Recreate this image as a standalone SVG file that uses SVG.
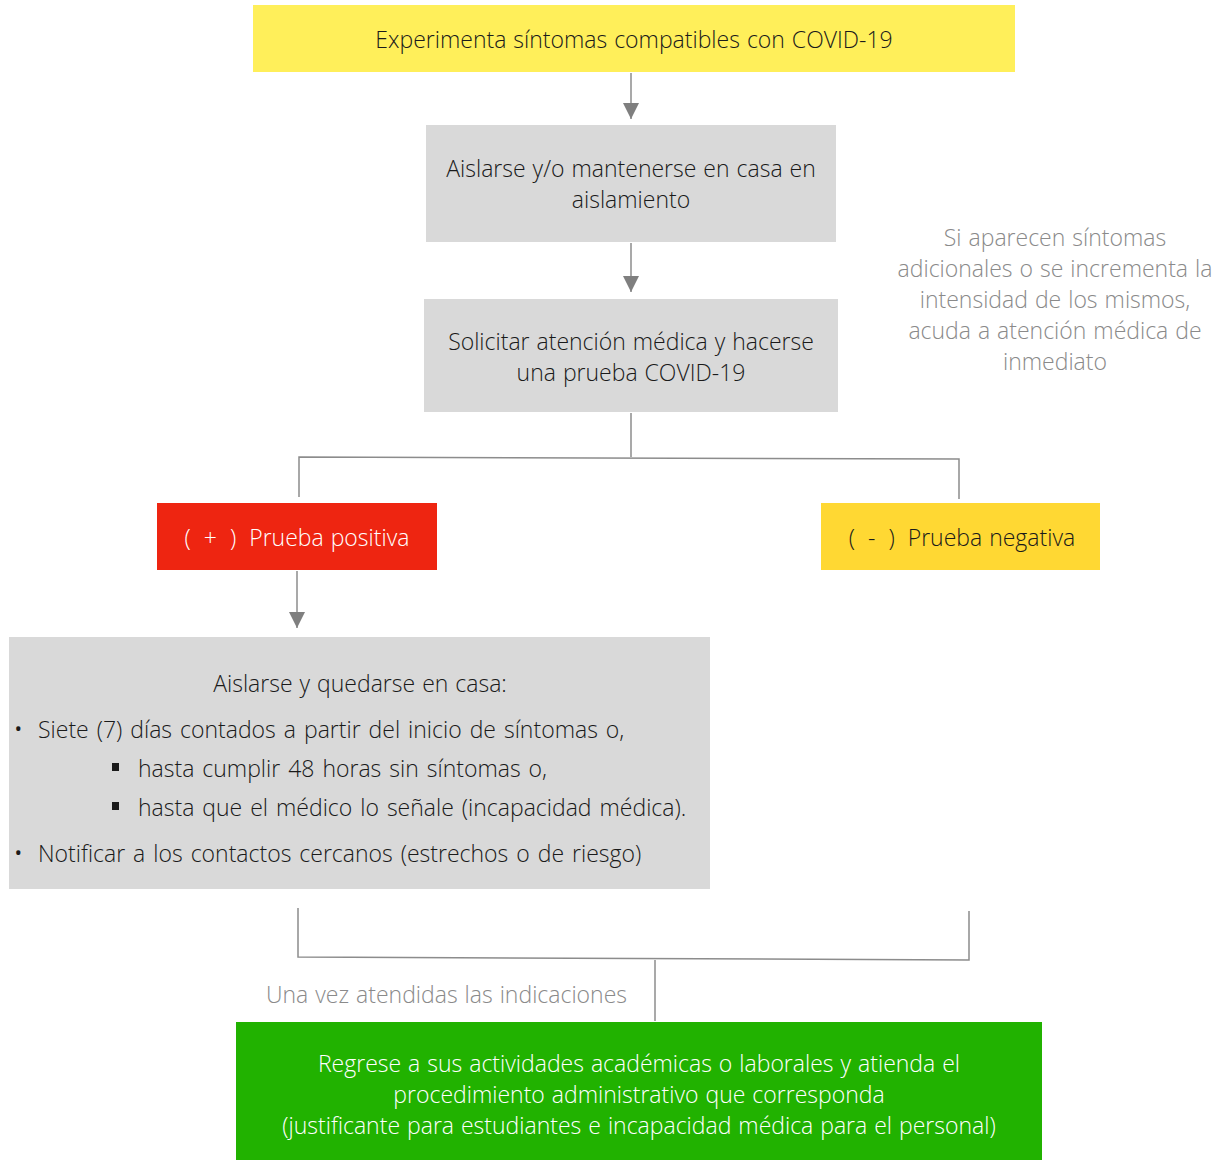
<svg xmlns="http://www.w3.org/2000/svg" width="1223" height="1160" viewBox="0 0 1223 1160">
<style>
text{font-family:"Open Sans","Liberation Sans",sans-serif;font-weight:300;font-size:23px;fill:#1a1a1a;word-spacing:1px}
.c{text-anchor:middle}
.g{fill:#8a8a8a}
.w{fill:#ffffff}
.ws{word-spacing:2px}
.pw{word-spacing:7px}
.ln{stroke:#8c8c8c;stroke-width:1.5;fill:none}
</style>
<defs>
<marker id="ah" viewBox="0 0 10 10" refX="10" refY="5" markerWidth="16" markerHeight="16" markerUnits="userSpaceOnUse" orient="auto">
<path d="M0,0 L10,5 L0,10 Z" fill="#7f7f7f"/>
</marker>
</defs>
<rect width="1223" height="1160" fill="#ffffff"/>
<g id="connectors">
<line class="ln" x1="631" y1="73" x2="631" y2="119" marker-end="url(#ah)"/>
<line class="ln" x1="631" y1="243" x2="631" y2="292" marker-end="url(#ah)"/>
<polyline class="ln" points="631,413 631,457"/>
<polyline class="ln" points="299,497 299,457 959,459 959,499"/>
<line class="ln" x1="297" y1="571" x2="297" y2="628" marker-end="url(#ah)"/>
<polyline class="ln" points="298,908 298,957 969,960 969,911"/>
<line class="ln" x1="655" y1="960" x2="655" y2="1021"/>
<text class="g" x="627" y="1003" text-anchor="end">Una vez atendidas las indicaciones</text>
</g>
<g id="n1">
<rect x="253" y="5" width="762" height="67" fill="#FFEF5A"/>
<text class="c" x="634" y="48">Experimenta síntomas compatibles con COVID-19</text>
</g>
<g id="n2">
<rect x="426" y="125" width="410" height="117" fill="#D9D9D9"/>
<text class="c" x="631" y="177">Aislarse y/o mantenerse en casa en</text>
<text class="c" x="631" y="208">aislamiento</text>
</g>
<g id="n3">
<rect x="424" y="299" width="414" height="113" fill="#D9D9D9"/>
<text class="c" x="631" y="350">Solicitar atención médica y hacerse</text>
<text class="c" x="631" y="381">una prueba COVID-19</text>
</g>
<g id="note">
<text class="c g" x="1055" y="246">Si aparecen síntomas</text>
<text class="c g" x="1055" y="277">adicionales o se incrementa la</text>
<text class="c g" x="1055" y="308">intensidad de los mismos,</text>
<text class="c g" x="1055" y="339">acuda a atención médica de</text>
<text class="c g" x="1055" y="370">inmediato</text>
</g>
<g id="pos">
<rect x="157" y="503" width="280" height="67" fill="#EE2511"/>
<text class="c w" x="297" y="546"><tspan class="pw">( + ) </tspan>Prueba positiva</text>
</g>
<g id="neg">
<rect x="821" y="503" width="279" height="67" fill="#FFD833"/>
<text class="c" x="962" y="546"><tspan class="pw">( - ) </tspan>Prueba negativa</text>
</g>
<g id="iso">
<rect x="9" y="637" width="701" height="252" fill="#D9D9D9"/>
<text class="c" x="360" y="692">Aislarse y quedarse en casa:</text>
<text x="13" y="739" style="font-size:28px">•</text>
<text class="ws" x="38" y="738">Siete (7) días contados a partir del inicio de síntomas o,</text>
<rect x="112" y="763" width="7" height="8" fill="#1a1a1a"/>
<text class="ws" x="138" y="777">hasta cumplir 48 horas sin síntomas o,</text>
<rect x="112" y="802" width="7" height="8" fill="#1a1a1a"/>
<text class="ws" x="138" y="816">hasta que el médico lo señale (incapacidad médica).</text>
<text x="13" y="863" style="font-size:28px">•</text>
<text class="ws" x="38" y="862">Notificar a los contactos cercanos (estrechos o de riesgo)</text>
</g>
<g id="ret">
<rect x="236" y="1022" width="806" height="138" fill="#21B200"/>
<text class="c w" x="639" y="1072">Regrese a sus actividades académicas o laborales y atienda el</text>
<text class="c w" x="639" y="1103">procedimiento administrativo que corresponda</text>
<text class="c w" x="639" y="1134">(justificante para estudiantes e incapacidad médica para el personal)</text>
</g>
</svg>
